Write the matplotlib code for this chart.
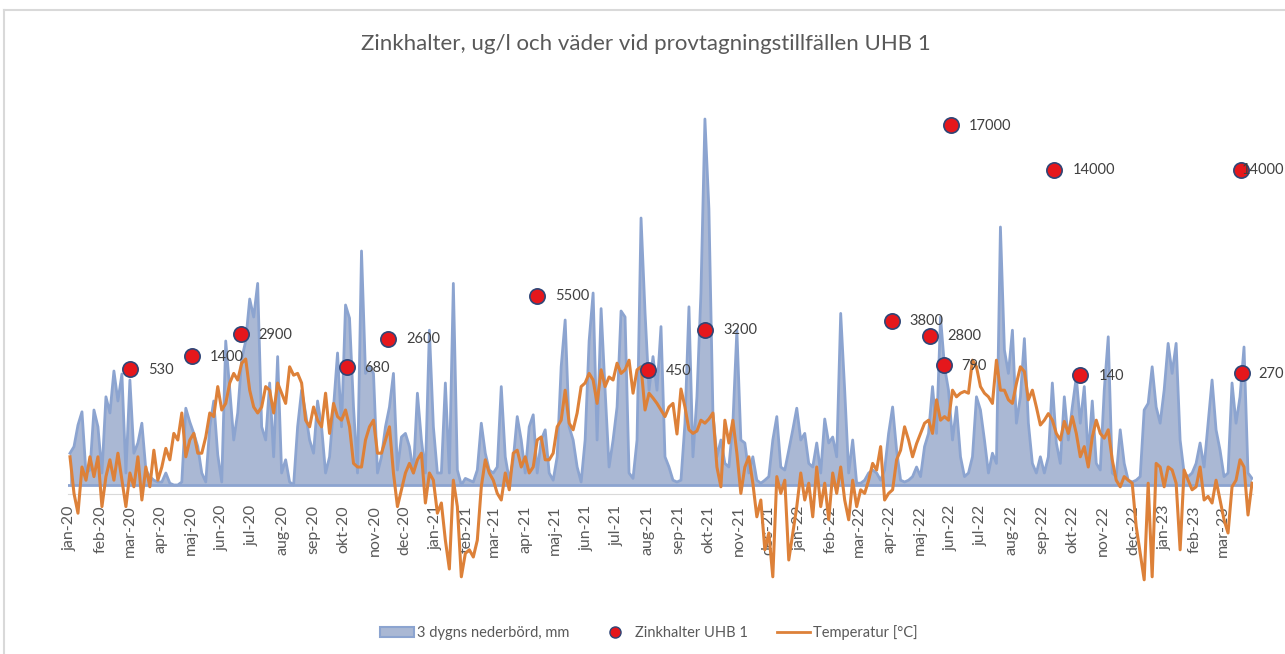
import numpy as np
import matplotlib
matplotlib.use("Agg")
import matplotlib.pyplot as plt
from matplotlib.patches import Patch
from matplotlib.lines import Line2D

plt.rcParams['font.family'] = ['Lato', 'DejaVu Sans']

title = "Zinkhalter, ug/l och väder vid provtagningstillfällen UHB 1"
month_names = ["jan", "feb", "mar", "apr", "maj", "jun",
               "jul", "aug", "sep", "okt", "nov", "dec"]

# weather series, one value every 4 days from 2020-01-01
start = np.datetime64("2020-01-01")
step_days = 4

precip = [
    5.3, 6.4, 10, 12.2, 2, 2.5, 12.5, 9.7, 2, 14.7,
    12, 19, 14, 18.5, 2, 17.5, 5.3, 7, 10.3, 2.5,
    1.4, 0.8, 0.5, 0.5, 2, 0.3, 0, 0, 0.5, 12.8,
    10.5, 8.6, 6.4, 2, 0.5, 9.7, 14, 5, 0.5, 24,
    16, 7.5, 12, 21, 24, 31, 28, 33.6, 9.7, 7.5,
    17, 4.7, 21.4, 2, 4.2, 0.5, 0, 9.7, 15.8, 12,
    7.5, 5.3, 14, 9.7, 2, 4.7, 13, 22, 9.7, 30,
    27.8, 13, 2, 39, 18.6, 19.7, 18.6, 2, 4.7, 9.7,
    13, 18.6, 2.5, 8, 8.6, 6.4, 2, 15.3, 7.5, 2,
    25.8, 9.7, 2, 2, 17, 2, 33.6, 2.5, 0, 1.1,
    0.8, 0.5, 2.5, 10.3, 5.3, 2.5, 2, 3, 16.4, 4.7,
    0.8, 4.2, 11.4, 7.5, 2, 9.7, 11.7, 2, 7.5, 9.2,
    2, 0.8, 4.7, 19.7, 27.5, 9.7, 7.5, 3, 0.5, 7.5,
    24, 32, 7.5, 29.4, 15.8, 3, 7.5, 13, 29, 28,
    2, 1.1, 7.5, 44.5, 28.8, 15.8, 21.4, 15.8, 26.4, 4.7,
    3, 0.8, 0.5, 0.8, 10.3, 29.7, 4.7, 14.7, 32, 61,
    46, 12, 4.7, 7.5, 3.6, 3, 10.3, 25.8, 7.5, 7,
    2, 4.7, 0.8, 0.3, 0.8, 1.4, 7.5, 11.4, 3, 2.5,
    5.8, 9.2, 12.8, 7.5, 8.6, 3.6, 3, 7, 2, 11,
    7, 8, 4.7, 28.6, 15.8, 2, 7.5, 0.3, 0.3, 0.8,
    2, 2.5, 2, 0.8, 2.5, 8.6, 13, 5.8, 0.8, 0.5,
    0.8, 1.4, 3, 1.4, 6.4, 8.6, 16.4, 8.6, 28, 19.7,
    15.8, 7.5, 13, 4.7, 1.4, 2, 4.7, 14.7, 12.5, 7.5,
    2, 5.3, 3.6, 43, 22.5, 18.6, 25.8, 10.3, 14.7, 24.4,
    10.3, 3.6, 2, 4.7, 2, 4.7, 17, 7, 3.6, 14.7,
    7.5, 13, 18, 10.3, 16.4, 4.7, 14, 3.6, 2.5, 15.8,
    24.7, 2, 1.4, 9.2, 3.6, 0.8, 0.5, 0.8, 1.4, 12.5,
    13.6, 19.7, 13, 10.3, 15.8, 23.6, 18.6, 23.6, 7.5, 2,
    1.4, 2, 3.6, 7, 3, 10.3, 17.5, 9.2, 5.8, 1.4,
    2, 17, 10.3, 14.7, 23, 2, 1.1,
]

temperature = [
    4.7, -1.4, -4.7, 3, 0.8, 4.7, 1.4, 4.7, -3.6, 1.4,
    4.2, 0.8, 5.3, 0.8, -3.6, 2, -0.3, 4.7, -2.5, 3,
    -0.3, 5.8, 0.8, 3, 6.1, 4.2, 8.6, 7.5, 12, 4.7,
    7.5, 8.6, 5.3, 5.3, 8, 12, 11.4, 16.4, 12.5, 13.6,
    17, 18.6, 17.5, 20.3, 21, 15.8, 13, 12, 13, 16.4,
    15.8, 12, 17, 15.3, 13.6, 19.7, 18.3, 18.6, 17, 10.8,
    9.7, 13, 10.8, 9.7, 15.3, 8.6, 13.6, 11.4, 10.8, 12.5,
    9.7, 3.6, 3, 3, 7.5, 9.7, 10.8, 5.3, 5.3, 7.5,
    9.7, 2, -3.6, -0.8, 2, 3.6, 2, 4.2, 5.3, -3,
    2, 0.8, -4.7, -3, -9.2, -14, 0.8, -3.6, -15.3, -11.4,
    -10.8, -12, -9.2, -0.3, 4.2, 2, 0.8, -1.4, -2.5, 2,
    -0.8, 5.3, 5.8, 3, 4.7, 2, 3, 7.5, 8, 4.2,
    4.2, 5.3, 9.7, 10.8, 15.8, 10.3, 9.2, 12, 16.4, 17,
    18.6, 17.5, 13.6, 19.2, 16.4, 18, 17.5, 20.3, 18.6, 19.2,
    20.8, 15.3, 19.2, 19.7, 12.5, 15.3, 14.5, 13.6, 12.5, 11.4,
    13, 13.6, 8.5, 16, 13, 9.2, 8.6, 9, 10.8, 10.3,
    11, 12, 3, -0.3, 10.8, 7, 10.8, 5.3, -1.4, 3,
    4.7, 0.3, -5.3, -2.5, -10.8, -8, -15.3, 1.4, -1.4, 0.8,
    -12.5, -8, -3.6, 2, -2.5, 0.3, -5.3, 3, -3.6, 0.3,
    -5.8, 2, -1.4, 3, -2.5, -5.8, 0.8, -3.6, -0.8, -1.4,
    0.8, 3.6, 2.5, 6.4, -2.5, -1.4, -0.8, 4.2, 5.8, 9.7,
    7.5, 4.7, 6.9, 8.6, 10.3, 10.8, 8.6, 14.2, 10.8, 11.4,
    10.8, 15.8, 14.7, 15.3, 15.6, 15.3, 20.8, 19.7, 16.4, 15.3,
    14.7, 13.6, 20.8, 15.8, 15.8, 14.2, 13.6, 16.9, 19.7, 18.9,
    14.2, 15.8, 13, 10, 10.8, 11.9, 10.8, 8.6, 7.5, 10.6,
    8.6, 11.4, 8.6, 4.7, 6.4, 3, 8, 10.8, 8.6, 7.8,
    9.2, 4.2, 0.8, -0.3, 1.4, 0.8, 0.3, -6.9, -11.4, -15.8,
    0.3, -15.3, 3.6, 3, -0.3, 3, 2.5, 0.3, -10.8, 2.5,
    0.8, -0.8, -0.3, 3, -2.5, -1.9, -3, 0.8, -2.5, -5.8,
    -8, -0.3, 0.8, 4.2, 3, -5, 0.3,
]

zinc_dates = ["2020-03-01", "2020-05-02", "2020-06-20", "2020-10-04",
              "2020-11-15", "2021-04-13", "2021-08-02", "2021-09-28",
              "2022-04-03", "2022-05-11", "2022-05-25", "2022-06-01",
              "2022-09-13", "2022-10-09", "2023-03-19", "2023-03-20"]
zinc = [530, 1400, 2900, 680, 2600, 5500, 450, 3200,
        3800, 2800, 790, 17000, 14000, 140, 14000, 270]

dates = start + np.arange(len(precip)) * np.timedelta64(step_days, "D")
dates = dates.astype("datetime64[D]").astype(object)
zdates = np.array(zinc_dates, dtype="datetime64[D]").astype(object)

W, H = 1285, 654
fig = plt.figure(figsize=(W / 100, H / 100), dpi=100)
ax = fig.add_axes([68 / W, 1 - 600 / H, (1253 - 68) / W, 500 / H])
ax2 = ax.twinx()

fill_c = "#AAB8D4"
edge_c = "#8CA4D0"
temp_c = "#DD8139"

ax.fill_between(dates, 0, precip, facecolor=fill_c, edgecolor="none", zorder=1)
ax.plot(dates, precip, color=edge_c, lw=2, zorder=2)
ax.axhline(0, color=edge_c, lw=2, zorder=2)
ax.plot(dates, temperature, color=temp_c, lw=2.2, zorder=3)

ax.set_ylim(-115 / 6, 385 / 6)
ax2.set_ylim(-223 / 0.0148, 277 / 0.0148)
ax.set_xlim(np.datetime64("2019-12-30").astype(object),
            np.datetime64("2023-03-31").astype(object))

ax2.plot(zdates, zinc, "o", ms=11, mfc="#E5171C", mec="#2E4677", mew=1.2,
         zorder=5, clip_on=False)
labels = []
for d, v in zip(zdates, zinc):
    t = ax2.annotate(str(v), (d, v), xytext=(13, -0.5), textcoords="offset points",
                     va="center", ha="left", fontsize=10.5, color="#404040",
                     annotation_clip=False, zorder=6)
    labels.append(t)

# months on the 1st
ticks = [np.datetime64(f"{y}-{m:02d}-01").astype(object)
         for y in (2020, 2021, 2022, 2023) for m in range(1, 13)
         if (y, m) <= (2023, 3)]
ticklabels = [f"{month_names[d.month - 1]}-{d.year % 100:02d}" for d in ticks]
ax.set_xticks(ticks)
ax.set_xticklabels(ticklabels)
ax.tick_params(axis="x", length=0, pad=8, labelrotation=90, labelsize=11.5,
               labelcolor="#595959")
ax.set_yticks([])
ax2.set_yticks([])
for a in (ax, ax2):
    for s in ("top", "right", "left"):
        a.spines[s].set_visible(False)
ax2.spines["bottom"].set_visible(False)
ax.spines["bottom"].set_position(("data", -1.5))
ax.spines["bottom"].set_color("#D9D9D9")
ax.spines["bottom"].set_zorder(0)
ax.set_zorder(1)
ax2.set_zorder(2)

fig.text(0.503, 1 - 44 / H, title, ha="center", va="center",
         fontsize=16, color="#595959")

handles = [Patch(facecolor=fill_c, edgecolor=edge_c, lw=1.5),
           Line2D([], [], ls="none", marker="o", ms=8, mfc="#E5171C", mec="#2E4677"),
           Line2D([], [], color=temp_c, lw=2)]
fig.legend(handles, ["3 dygns nederbörd, mm", "Zinkhalter UHB 1", "Temperatur [°C]"],
           loc="center", bbox_to_anchor=(0.505, 1 - 633 / H), ncol=3, frameon=False,
           fontsize=10.5, labelcolor="#595959", columnspacing=2.0, handletextpad=0.2,
           handlelength=2.3)

# chart area border
fig.add_artist(Line2D([4 / W, 4 / W], [0, 1 - 10 / H], color="#D9D9D9", lw=1.5))
fig.add_artist(Line2D([4 / W, 1], [1 - 10 / H, 1 - 10 / H], color="#D9D9D9", lw=1.5))

# keep labels inside the chart, like Excel does
fig.canvas.draw()
r = fig.canvas.get_renderer()
for t in labels:
    bb = t.get_window_extent(r)
    if bb.x1 > W - 1:
        over = (bb.x1 - (W - 1)) * 72 / fig.dpi
        t.xyann = (t.xyann[0] - over, t.xyann[1])

fig.savefig("out.png", dpi=100)
